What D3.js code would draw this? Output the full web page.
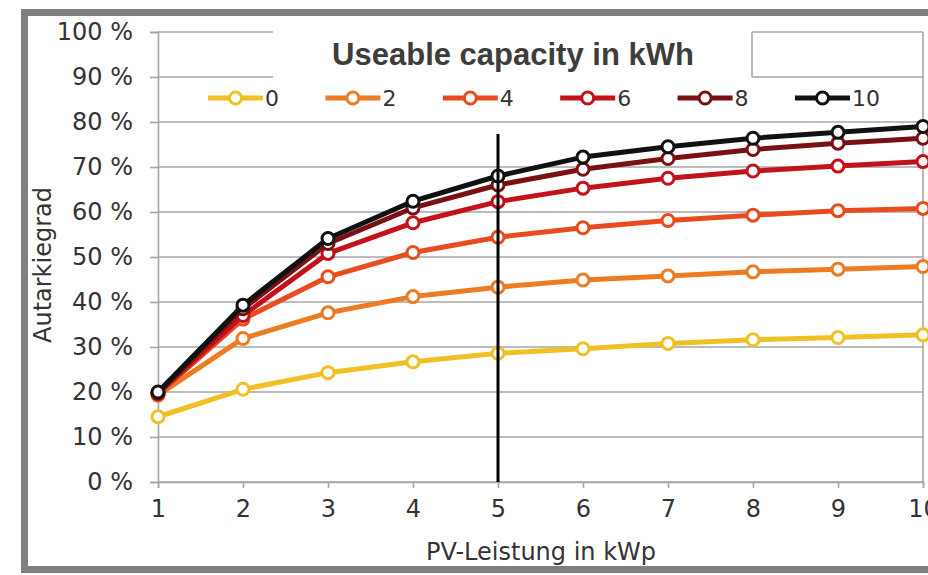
<!DOCTYPE html>
<html><head><meta charset="utf-8">
<script src="https://cdn.jsdelivr.net/npm/d3@7"></script>
<style>html,body{margin:0;padding:0;background:#fff;}svg{display:block;}</style>
</head><body>
<svg id="chart" width="928" height="575"></svg>
<script>
const pvPower = [1, 2, 3, 4, 5, 6, 7, 8, 9, 10];
const capacities = ["0", "2", "4", "6", "8", "10"];
const cap0  = [14.5, 20.6, 24.3, 26.7, 28.6, 29.6, 30.8, 31.6, 32.1, 32.7];
const cap2  = [19.3, 31.9, 37.6, 41.2, 43.3, 44.9, 45.8, 46.7, 47.3, 47.9];
const cap4  = [19.5, 36.2, 45.6, 51.0, 54.4, 56.5, 58.1, 59.3, 60.3, 60.8];
const cap6  = [19.7, 37.0, 50.8, 57.6, 62.3, 65.3, 67.5, 69.1, 70.2, 71.2];
const cap8  = [19.8, 38.5, 53.0, 60.9, 66.0, 69.5, 71.9, 73.9, 75.3, 76.4];
const cap10 = [20.0, 39.3, 54.1, 62.4, 68.0, 72.2, 74.5, 76.4, 77.7, 79.0];
const yTicks = [0, 10, 20, 30, 40, 50, 60, 70, 80, 90, 100];
const markerX = 5;
const titleText = "Useable capacity in kWh";
const xTitle = "PV-Leistung in kWp";
const yTitle = "Autarkiegrad";
const colors = ["#f0c024", "#ec7b22", "#e84c1e", "#c3121c", "#7a1012", "#111111"];

const series = [cap0, cap2, cap4, cap6, cap8, cap10].map((v, i) => ({
  name: capacities[i], color: colors[i],
  points: v.map((y, j) => ({x: pvPower[j], y}))
}));

const svg = d3.select("#chart");
const font = "'DejaVu Sans', Verdana, sans-serif";

// frame
svg.append("rect").attr("x", 24.5).attr("y", 12.5).attr("width", 1000).attr("height", 557)
  .attr("fill", "#fff").attr("stroke", "#808080").attr("stroke-width", 7);

const x = d3.scaleLinear().domain([1, 10]).range([158, 923]);
const y = d3.scaleLinear().domain([0, 100]).range([482, 32]);

// gridlines
svg.append("g").selectAll("line").data(yTicks).join("line")
  .attr("x1", x(1)).attr("x2", x(10))
  .attr("y1", d => y(d)).attr("y2", d => y(d))
  .attr("stroke", "#a6a6a6").attr("stroke-width", 1.6);

// right border of plot
svg.append("line").attr("x1", x(10)).attr("x2", x(10)).attr("y1", y(100)).attr("y2", y(0))
  .attr("stroke", "#a6a6a6").attr("stroke-width", 1.6);

// y axis
const yAxis = svg.append("g").attr("transform", `translate(${x(1)},0)`)
  .call(d3.axisLeft(y).tickValues(yTicks).tickFormat(d => d + " %").tickSize(8).tickPadding(17));
yAxis.select(".domain").attr("stroke", "#a6a6a6").attr("stroke-width", 1.6);
yAxis.selectAll(".tick line").attr("stroke", "#a6a6a6").attr("stroke-width", 1.6);
yAxis.selectAll("text").attr("font-family", font).attr("font-size", 24).attr("fill", "#333");

// x axis
const xAxis = svg.append("g").attr("transform", `translate(0,${y(0)})`)
  .call(d3.axisBottom(x).tickValues(pvPower).tickFormat(d3.format("d")).tickSize(6).tickPadding(12));
xAxis.select(".domain").attr("stroke", "#a6a6a6").attr("stroke-width", 1.6);
xAxis.selectAll(".tick line").attr("stroke", "#a6a6a6").attr("stroke-width", 1.6);
xAxis.selectAll("text").attr("font-family", font).attr("font-size", 24).attr("fill", "#333");

// axis titles
svg.append("text").attr("x", 541).attr("y", 560).attr("text-anchor", "middle")
  .attr("font-family", font).attr("font-size", 24).attr("fill", "#333").text(xTitle);
svg.append("text").attr("transform", "translate(51,265) rotate(-90)").attr("text-anchor", "middle")
  .attr("font-family", font).attr("font-size", 24).attr("fill", "#333").text(yTitle);

// title box covering gridlines
svg.append("rect").attr("x", 273).attr("y", 28).attr("width", 479).attr("height", 53).attr("fill", "#fff");
svg.append("line").attr("x1", 752).attr("x2", 752).attr("y1", y(100)).attr("y2", y(90))
  .attr("stroke", "#a6a6a6").attr("stroke-width", 1.6);
svg.append("text").attr("x", 513).attr("y", 65).attr("text-anchor", "middle")
  .attr("font-family", "'Liberation Sans', Arial, sans-serif").attr("font-weight", "bold")
  .attr("font-size", 31).attr("fill", "#3d3d3d").text(titleText);

// lines
const line = d3.line().x(d => x(d.x)).y(d => y(d.y));
const sg = svg.append("g").selectAll("g").data(series).join("g");
sg.append("path").attr("d", d => line(d.points)).attr("fill", "none")
  .attr("stroke", d => d.color).attr("stroke-width", 5).attr("stroke-linejoin", "round");
sg.selectAll("circle").data(d => d.points.map(p => ({...p, color: d.color}))).join("circle")
  .attr("cx", d => x(d.x)).attr("cy", d => y(d.y)).attr("r", 6)
  .attr("fill", "#fff").attr("stroke", d => d.color).attr("stroke-width", 3);

// vertical marker line
svg.append("line").attr("x1", x(markerX)).attr("x2", x(markerX)).attr("y1", 134).attr("y2", y(0))
  .attr("stroke", "#000").attr("stroke-width", 3);

// legend
const lg = svg.append("g").selectAll("g").data(series).join("g")
  .attr("transform", (d, i) => `translate(${208 + i * 117.4},98)`);
lg.append("line").attr("x1", 0).attr("x2", 55).attr("y1", 0).attr("y2", 0)
  .attr("stroke", d => d.color).attr("stroke-width", 5);
lg.append("circle").attr("cx", 27.5).attr("cy", 0).attr("r", 6)
  .attr("fill", "#fff").attr("stroke", d => d.color).attr("stroke-width", 3);
lg.append("text").attr("x", 57).attr("y", 0).attr("dy", "0.36em")
  .attr("font-family", font).attr("font-size", 22).attr("fill", "#333").text(d => d.name);
</script>
</body></html>
